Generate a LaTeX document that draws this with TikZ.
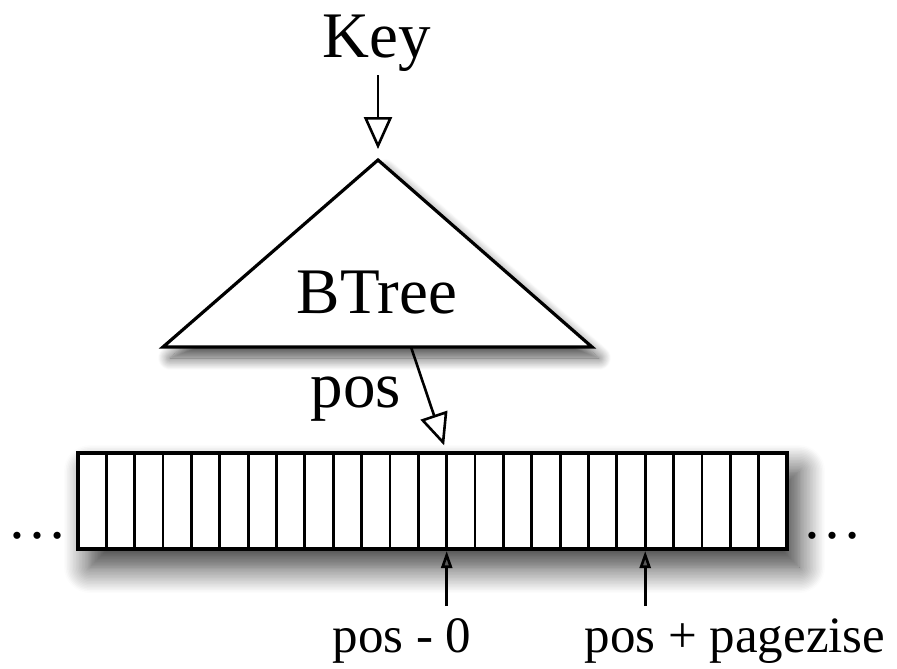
\documentclass[tikz,border=0pt]{standalone}
\usepackage{fontspec}
\setmainfont{Liberation Serif}
\usetikzlibrary{arrows.meta,shadows.blur}
\begin{document}
\begin{tikzpicture}[x=1pt,y=-1pt,
  big text/.style={inner sep=0pt, anchor=base, font=\fontsize{65}{70}\selectfont},
  small text/.style={inner sep=0pt, anchor=base, font=\fontsize{51}{56}\selectfont},
  open arrow/.style={line width=2.6pt, -{Triangle[open, length=32pt, width=28pt, line width=2.6pt]}},
  ptr arrow/.style={line width=2.6pt, -{Triangle[length=17pt, width=11pt]}},
  outline/.style={line width=3.2pt, line join=miter, fill=white},
]
\useasboundingbox (0,0) rectangle (897,669);

% search tree
\coordinate (apex) at (378,160);
\coordinate (bl) at (163,347);
\coordinate (br) at (592,347);
\filldraw[outline, blur shadow={shadow xshift=7pt, shadow yshift=-11pt,
    shadow blur radius=12pt, shadow blur steps=14, shadow opacity=70}]
  (bl) -- (apex) -- (br) -- cycle;
\node[big text] (btree) at (377,313) {BTree};

% key lookup
\node[big text] (key) at (377,58) {Key};
\draw[open arrow, shorten <=3pt, shorten >=11pt] (key.south -| apex) -- (apex);

% page of the data file
\node[draw, rectangle, outline, minimum width=709pt, minimum height=96pt,
  blur shadow={shadow xshift=12pt, shadow yshift=-18pt,
    shadow blur radius=26pt, shadow blur steps=18, shadow opacity=80}]
  (arr) at (432.5,501) {};
\foreach \i in {1,...,24}
  \draw[line width=2.8pt] ({78+\i*28.36},453) -- ({78+\i*28.36},549);

% positions inside the page
\coordinate (start) at ({78+13*28.36},453);
\coordinate (startb) at ({78+13*28.36},549);
\coordinate (endb) at ({78+20*28.36},549);
\coordinate (tb) at (411,347);

\node[big text] (pos) at (356,407) {pos};
\draw[open arrow, shorten >=8pt] (tb) -- (start);

\node[small text] (p0) at (402,652) {pos - 0};
\node[small text] (p1) at (735,652) {pos + pagezise};
\coordinate (p0t) at ({78+13*28.36},606);
\coordinate (p1t) at ({78+20*28.36},606);
\draw[ptr arrow, shorten >=2pt] (p0t) -- (startb);
\draw[ptr arrow, shorten >=2pt] (p1t) -- (endb);

% continuation marks
\node[small text, font=\fontsize{60}{64}\selectfont] (ldots) at (38,538) {…};
\node[small text, font=\fontsize{60}{64}\selectfont] (rdots) at (832,538) {…};
\end{tikzpicture}
\end{document}
